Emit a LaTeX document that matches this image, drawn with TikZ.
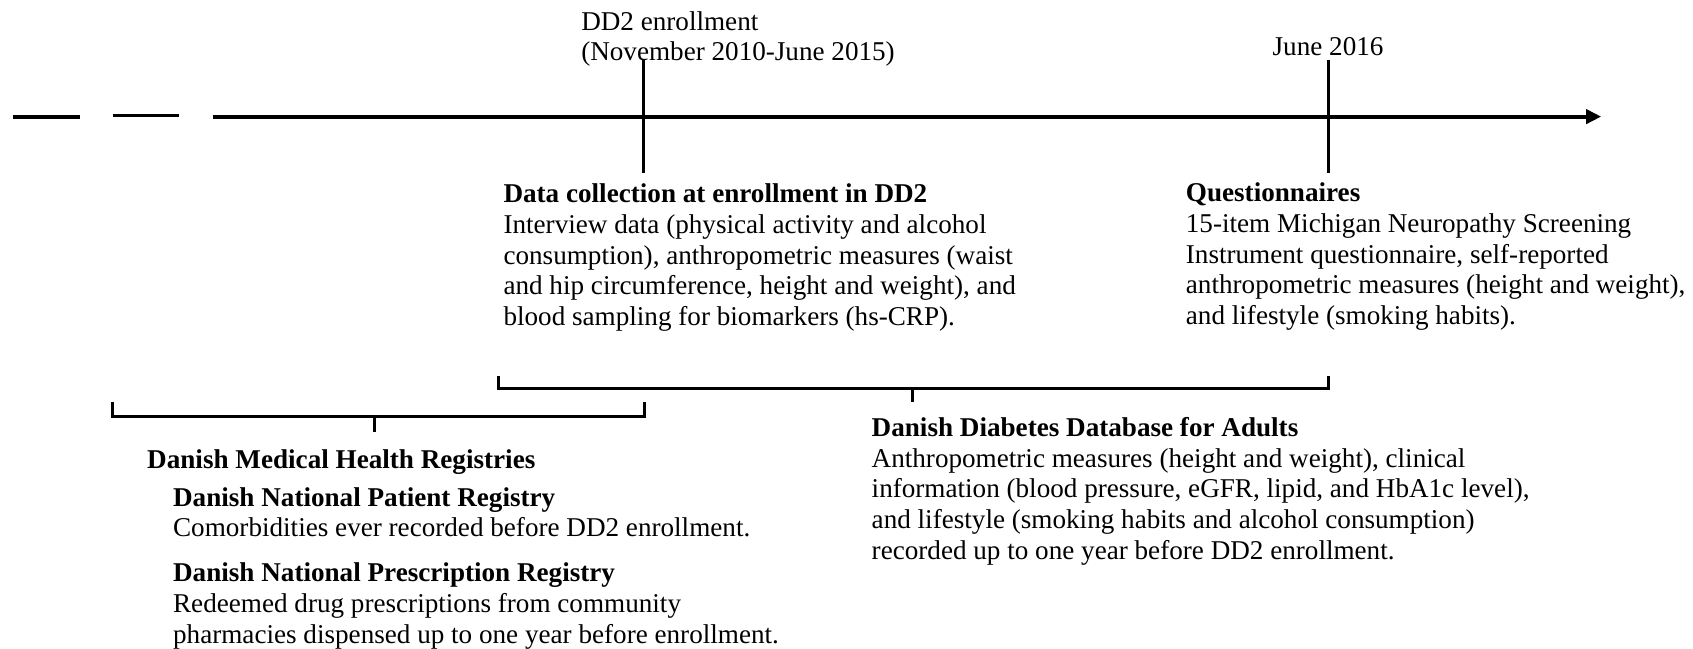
\documentclass[tikz,border=0pt]{standalone}
\usepackage{fontspec}
\setmainfont{Liberation Serif}
\usetikzlibrary{positioning,arrows.meta}

\begin{document}
\begin{tikzpicture}[x=0.2mm, y=-0.2mm,
    txt/.style={anchor=north west, inner sep=0pt, align=left,
        font=\fontsize{14.3}{16.2}\selectfont},
    axis/.style={line width=2pt},
    brace/.style={line width=1.6pt, line cap=rect}]
    \useasboundingbox (0,0) rectangle (1568,601);
    % time axis
    \draw[axis] (12,108) -- (74,108);
    \draw[axis] (105,107) -- (166,107);
    \coordinate (start) at (197,108);
    \coordinate (enrol) at (596,108);
    \coordinate (june) at (1230,108);
    \coordinate (stop) at (1483,108);
    \draw[axis, -{Triangle[length=2.8mm, width=2.6mm]}] (start) -- (stop);
    \foreach \c in {enrol, june} {
        \draw[brace] ([yshift=-51*0.2mm]\c) -- ([yshift=51*0.2mm]\c);
    }
    % dates
    \node[txt] (enroltxt) at (538,10) {DD2 enrollment\\(November 2010-June 2015)};
    \node[txt, anchor=base] (junetxt) at (1230,51) {June 2016};
    % data at enrollment and questionnaires
    \node[txt] (dd2) at (466,170) {\textbf{Data collection at enrollment in DD2}\\
        Interview data (physical activity and alcohol\\
        consumption), anthropometric measures (waist\\
        and hip circumference, height and weight), and\\
        blood sampling for biomarkers (hs-CRP).};
    \node[txt] (quest) at (1098,169) {\textbf{Questionnaires}\\
        15-item Michigan Neuropathy Screening\\
        Instrument questionnaire, self-reported\\
        anthropometric measures (height and weight),\\
        and lifestyle (smoking habits).};
    % brackets
    \draw[brace] (462,350) -- (462,360) -- (1230,360) -- (1230,350);
    \draw[brace] (845,360) -- (845,371);
    \draw[brace] (104,374) -- (104,386) -- (597,386) -- (597,374);
    \draw[brace] (347,386) -- (347,399);
    % registries
    \node[txt] (dmhr) at (136,416) {\textbf{Danish Medical Health Registries}};
    \node[txt] (npr) at (160,451) {\textbf{Danish National Patient Registry}\\
        Comorbidities ever recorded before DD2 enrollment.};
    \node[txt] (nprx) at (160,521) {\textbf{Danish National Prescription Registry}\\
        Redeemed drug prescriptions from community\\
        pharmacies dispensed up to one year before enrollment.};
    \node[txt] (dda) at (807,386) {\textbf{Danish Diabetes Database for Adults}\\
        Anthropometric measures (height and weight), clinical\\
        information (blood pressure, eGFR, lipid, and HbA1c level),\\
        and lifestyle (smoking habits and alcohol consumption)\\
        recorded up to one year before DD2 enrollment.};
\end{tikzpicture}
\end{document}
